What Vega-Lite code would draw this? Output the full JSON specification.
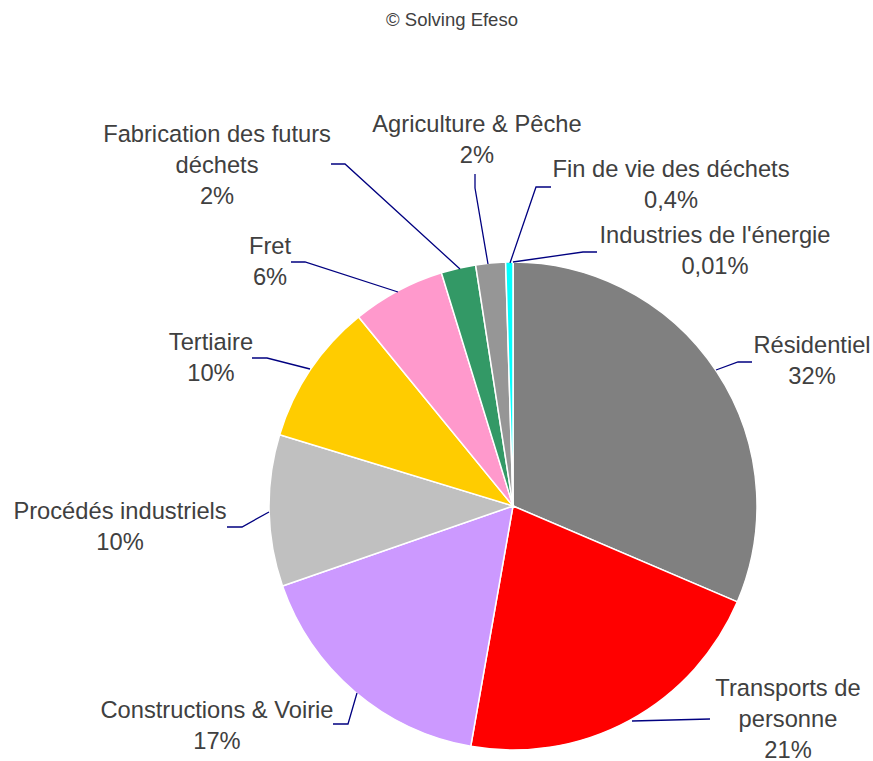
{
  "$schema": "https://vega.github.io/schema/vega-lite/v6.json",
  "autosize": {"type": "none"},
  "width": 720,
  "height": 510,
  "padding": {"left": 153, "top": 251, "right": 0, "bottom": 0},
  "background": "white",
  "title": {"text": "© Solving Efeso", "font": "Liberation Sans", "fontSize": 18.5, "fontWeight": "normal", "color": "#404040", "frame": "group", "anchor": "middle", "dx": -61, "offset": 83},
  "config": {"view": {"stroke": null}},
  "data": {
    "values": [
      {"i": 0, "cat": "Industries de l'énergie", "value": 0.01, "label": "Industries de l'énergie\n0,01%"},
      {"i": 1, "cat": "Résidentiel", "value": 31.42, "label": "Résidentiel\n32%"},
      {"i": 2, "cat": "Transports de personne", "value": 21.34, "label": "Transports de\npersonne\n21%"},
      {"i": 3, "cat": "Constructions & Voirie", "value": 16.91, "label": "Constructions & Voirie\n17%"},
      {"i": 4, "cat": "Procédés industriels", "value": 10.04, "label": "Procédés industriels\n10%"},
      {"i": 5, "cat": "Tertiaire", "value": 9.38, "label": "Tertiaire\n10%"},
      {"i": 6, "cat": "Fret", "value": 6.16, "label": "Fret\n6%"},
      {"i": 7, "cat": "Fabrication des futurs déchets", "value": 2.29, "label": "Fabrication des futurs\ndéchets\n2%"},
      {"i": 8, "cat": "Agriculture & Pêche", "value": 1.97, "label": "Agriculture & Pêche\n2%"},
      {"i": 9, "cat": "Fin de vie des déchets", "value": 0.48, "label": "Fin de vie des déchets\n0,4%"}
    ]
  },
  "layer": [
    {
      "mark": {"type": "arc", "outerRadius": 244, "stroke": "white", "strokeWidth": 1.5},
      "encoding": {
        "theta": {"field": "value", "type": "quantitative", "stack": true},
        "order": {"field": "i", "type": "quantitative"},
        "color": {
          "field": "cat", "type": "nominal", "legend": null,
          "scale": {
            "domain": ["Industries de l'énergie", "Résidentiel", "Transports de personne", "Constructions & Voirie", "Procédés industriels", "Tertiaire", "Fret", "Fabrication des futurs déchets", "Agriculture & Pêche", "Fin de vie des déchets"],
            "range": ["#000080", "#808080", "#FF0000", "#CC99FF", "#C0C0C0", "#FFCC00", "#FF99CC", "#339966", "#969696", "#00FFFF"]
          }
        }
      }
    },
    {
      "mark": {"type": "point", "filled": false, "opacity": 1, "strokeWidth": 1.3, "color": "#000080"},
      "encoding": {
        "size": {"value": 4},
        "shape": {
          "field": "cat", "type": "nominal", "legend": null,
          "scale": {
            "domain": ["Industries de l'énergie", "Résidentiel", "Transports de personne", "Constructions & Voirie", "Procédés industriels", "Tertiaire", "Fret", "Fabrication des futurs déchets", "Agriculture & Pêche", "Fin de vie des déchets"],
            "range": ["M84,-254L70,-254L0,-244", "M203,-136L225,-144L239,-144", "M119,215L197,213", "M-180,218L-165,218L-156,187", "M-286,21L-271,21L-244,6", "M-261,-148L-246,-148L-203,-137", "M-222,-244L-208,-244L-115,-214", "M-182,-342L-168,-342L-53,-237", "M-38,-332L-38,-318L-25,-242", "M38,-319L23,-319L-3,-243"]
          }
        }
      }
    },
    {
      "mark": {"type": "text", "font": "Liberation Sans", "fontSize": 23.7, "color": "#404040", "lineBreak": "\n", "lineHeight": 31, "align": "center", "baseline": "middle"},
      "encoding": {
        "text": {"field": "label", "type": "nominal"},
        "theta": {
          "field": "i", "type": "quantitative", "stack": null,
          "scale": {"type": "linear", "nice": false, "zero": false,
            "domain": [0, 1, 2, 3, 4, 5, 6, 7, 8, 9],
            "range": [0.6424, 1.0795, 2.1579, 4.1066, 4.6972, 5.2073, 5.5298, 5.6099, 6.1889, 6.7227]}
        },
        "radius": {
          "field": "i", "type": "quantitative",
          "scale": {"type": "linear", "nice": false, "zero": false,
            "domain": [0, 1, 2, 3, 4, 5, 6, 7, 8, 9],
            "range": [337.2, 339.1, 330.3, 360.1, 393.0, 343.2, 355.1, 474.6, 382.7, 371.3]}
        }
      }
    }
  ],
  "resolve": {"scale": {"theta": "independent", "radius": "independent"}}
}
